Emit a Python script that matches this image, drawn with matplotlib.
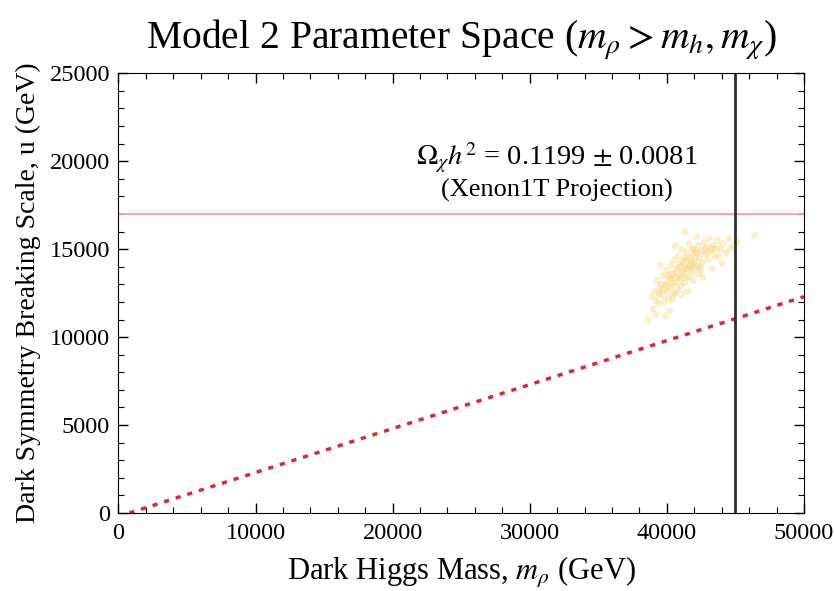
import numpy as np
import matplotlib.pyplot as plt
from matplotlib.ticker import MultipleLocator

plt.rcParams['font.family'] = 'Liberation Serif'
plt.rcParams['mathtext.fontset'] = 'stix'

# scatter of allowed points (GeV)
m_rho = [39.0, 39.2, 39.1, 39.4, 39.5, 39.3, 39.6, 39.7, 39.8, 39.9, 40.0, 40.0,
         40.1, 40.2, 40.3, 40.3, 40.4, 40.5, 40.5, 40.6, 40.7, 40.8, 40.8, 40.9,
         41.0, 41.0, 41.1, 41.2, 41.2, 41.3, 41.4, 41.4, 41.5, 41.6, 41.6, 41.7,
         41.8, 41.8, 41.9, 42.0, 42.0, 42.1, 42.2, 42.3, 42.3, 42.4, 42.5, 42.6,
         42.7, 42.8, 42.9, 43.0, 43.1, 43.2, 43.4, 43.5, 43.7, 43.9, 44.1, 44.3,
         44.5, 44.8, 45.1, 46.4, 38.6, 38.9, 39.5, 40.6, 41.3, 42.2, 40.2, 39.9,
         41.5, 42.6, 43.3, 44.0, 40.1, 40.4, 40.7, 40.9, 41.1, 41.3, 41.5, 41.7,
         41.9, 42.1, 40.6, 40.0, 39.7, 39.4, 41.0, 41.6, 42.4, 42.8, 43.3, 43.6,
         40.3, 40.8, 41.2, 41.8, 42.2, 39.6, 40.5, 41.4, 42.0, 43.0, 39.2, 40.4,
         41.1, 41.9, 42.5, 43.8, 44.6]
u_scale = [11.6, 12.1, 12.6, 11.9, 12.8, 13.2, 12.4, 13.5, 12.0, 13.0, 12.6, 13.8,
           12.2, 13.3, 14.1, 12.8, 13.6, 12.4, 14.4, 13.1, 13.9, 12.7, 14.6, 13.4,
           14.0, 12.9, 15.0, 13.6, 14.3, 13.1, 14.8, 13.9, 14.4, 13.4, 15.3, 14.1,
           14.7, 13.7, 15.0, 14.3, 13.9, 14.8, 14.1, 15.2, 13.6, 14.5, 14.9, 14.2,
           15.4, 14.7, 15.1, 14.4, 15.6, 14.9, 15.2, 14.6, 15.5, 15.0, 15.3, 14.8,
           15.6, 15.2, 15.4, 15.8, 11.0, 12.3, 14.1, 15.2, 16.0, 15.7, 11.5, 11.2,
           12.6, 13.4, 13.9, 14.2, 13.5, 13.0, 13.4, 14.2, 13.7, 14.5, 13.8, 14.5,
           14.0, 14.5, 12.5, 12.9, 12.7, 12.5, 13.3, 14.0, 14.0, 15.0, 15.0, 15.0,
           13.3, 13.8, 14.1, 14.2, 14.8, 13.0, 13.6, 13.4, 15.0, 14.8, 11.3, 12.1,
           12.4, 13.2, 13.8, 14.6, 15.0]
m_rho = np.array(m_rho) * 1000
u_scale = np.array(u_scale) * 1000

# lines
line_m = [800, 50000]
line_u = [0, 12300]
xenon_u = 17000
m_cut = 45000

fig = plt.figure(figsize=(8.34, 5.91), dpi=100)
ax = fig.add_axes([0.142, 0.132, 0.822, 0.744])

ax.scatter(m_rho, u_scale, s=26, color='#f7d374', alpha=0.35, edgecolors='none')
ax.plot(line_m, line_u, color='#d8283c', lw=2.5, linestyle=(0, (1.5, 2)))
ax.axhline(xenon_u, color='#f5a0a0', lw=1.3)
ax.axvline(m_cut, color='#303030', lw=2)

ax.text(32000, 20200, r'$\Omega_\chi h^2$ = 0.1199 $\pm$ 0.0081', fontsize=20.5,
        ha='center', va='center')
ax.text(32000, 18350, '(Xenon1T Projection)', fontsize=19, ha='center', va='center')

ax.set_xlim(0, 50000)
ax.set_ylim(0, 25000)
ax.xaxis.set_major_locator(MultipleLocator(10000))
ax.xaxis.set_minor_locator(MultipleLocator(2000))
ax.yaxis.set_major_locator(MultipleLocator(5000))
ax.yaxis.set_minor_locator(MultipleLocator(1000))
ax.tick_params(which='both', direction='in', top=True, right=True, labelsize=17.5)
ax.tick_params(which='major', length=7, width=1)
ax.tick_params(axis='x', pad=7)
ax.tick_params(axis='y', pad=6)
ax.tick_params(which='minor', length=4, width=0.8)

ax.set_xlabel(r'Dark Higgs Mass, $m_\rho$ (GeV)', fontsize=22, labelpad=8)
ax.set_ylabel('Dark Symmetry Breaking Scale, u (GeV)', fontsize=20, labelpad=6)
ax.set_title(r'Model 2 Parameter Space ($m_\rho > m_h, m_\chi$)', fontsize=28.5, pad=18)

fig.savefig('out.png', dpi=100)
